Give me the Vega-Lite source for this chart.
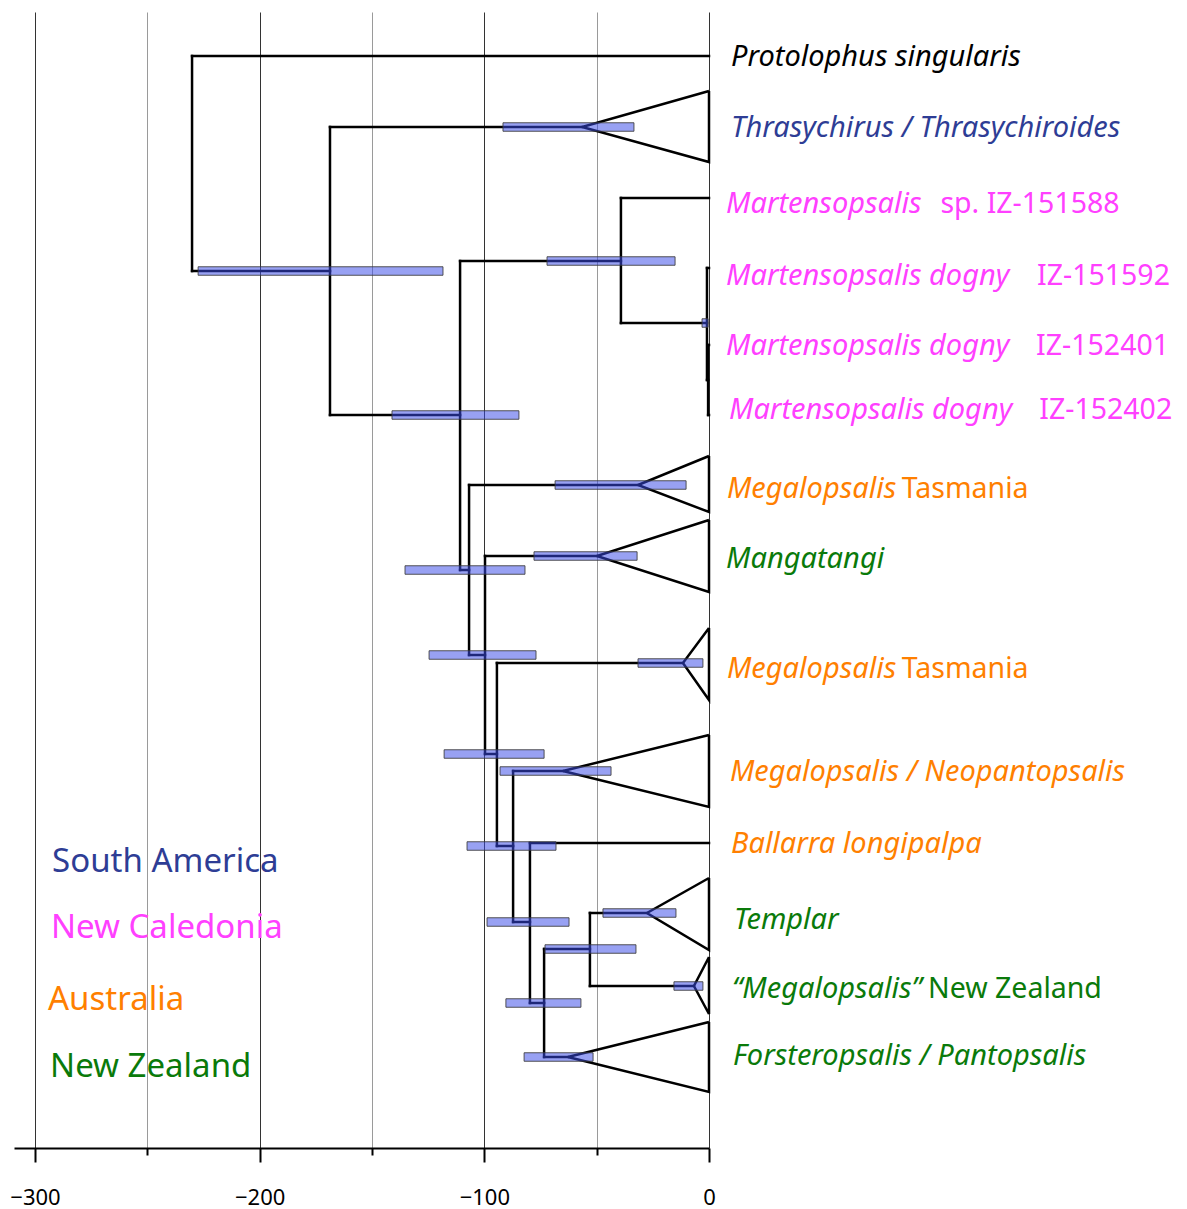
{
  "$schema": "https://vega.github.io/schema/vega-lite/v6.json",
  "width": 695,
  "height": 1136,
  "autosize": "none",
  "padding": {"left": 14, "top": 12, "right": 478, "bottom": 61},
  "background": "white",
  "config": {"view": {"stroke": null}},
  "datasets": {
    "edges": [
      {"x": -230.1, "x2": 0, "y": 56, "y2": 56},
      {"x": -230.1, "x2": -168.7, "y": 271, "y2": 271},
      {"x": -168.7, "x2": -56.5, "y": 127, "y2": 127},
      {"x": -168.7, "x2": -110.8, "y": 415, "y2": 415},
      {"x": -110.8, "x2": -39.2, "y": 261, "y2": 261},
      {"x": -39.2, "x2": 0, "y": 198, "y2": 198},
      {"x": -39.2, "x2": -0.9, "y": 323, "y2": 323},
      {"x": -0.9, "x2": 0, "y": 268, "y2": 268},
      {"x": -0.9, "x2": -0.4, "y": 380, "y2": 380},
      {"x": -0.4, "x2": 0, "y": 345, "y2": 345},
      {"x": -0.4, "x2": 0, "y": 415, "y2": 415},
      {"x": -110.8, "x2": -106.8, "y": 570, "y2": 570},
      {"x": -106.8, "x2": -31.6, "y": 485, "y2": 485},
      {"x": -106.8, "x2": -99.7, "y": 655, "y2": 655},
      {"x": -99.7, "x2": -49.9, "y": 556, "y2": 556},
      {"x": -99.7, "x2": -94.4, "y": 754, "y2": 754},
      {"x": -94.4, "x2": -11.6, "y": 663, "y2": 663},
      {"x": -94.4, "x2": -87.2, "y": 846, "y2": 846},
      {"x": -87.2, "x2": -65.0, "y": 771, "y2": 771},
      {"x": -87.2, "x2": -79.7, "y": 922, "y2": 922},
      {"x": -79.7, "x2": 0, "y": 843, "y2": 843},
      {"x": -79.7, "x2": -73.4, "y": 1003, "y2": 1003},
      {"x": -73.4, "x2": -53.0, "y": 949, "y2": 949},
      {"x": -53.0, "x2": -27.6, "y": 913, "y2": 913},
      {"x": -53.0, "x2": -6.7, "y": 986, "y2": 986},
      {"x": -73.4, "x2": -62.8, "y": 1057, "y2": 1057},
      {"x": -230.1, "x2": -230.1, "y": 56, "y2": 271},
      {"x": -168.7, "x2": -168.7, "y": 127, "y2": 415},
      {"x": -110.8, "x2": -110.8, "y": 261, "y2": 570},
      {"x": -39.2, "x2": -39.2, "y": 198, "y2": 323},
      {"x": -0.9, "x2": -0.9, "y": 268, "y2": 380},
      {"x": -0.4, "x2": -0.4, "y": 345, "y2": 415},
      {"x": -106.8, "x2": -106.8, "y": 485, "y2": 655},
      {"x": -99.7, "x2": -99.7, "y": 556, "y2": 754},
      {"x": -94.4, "x2": -94.4, "y": 663, "y2": 846},
      {"x": -87.2, "x2": -87.2, "y": 771, "y2": 922},
      {"x": -79.7, "x2": -79.7, "y": 843, "y2": 1003},
      {"x": -73.4, "x2": -73.4, "y": 949, "y2": 1057},
      {"x": -53.0, "x2": -53.0, "y": 913, "y2": 986}
    ],
    "triangles": [
      {"clade": "Thrasychirus", "ord": 1, "x": 0, "y": 91},
      {"clade": "Thrasychirus", "ord": 2, "x": -56.5, "y": 127},
      {"clade": "Thrasychirus", "ord": 3, "x": 0, "y": 162},
      {"clade": "Thrasychirus", "ord": 4, "x": 0, "y": 91},
      {"clade": "Tasmania1", "ord": 1, "x": 0, "y": 456},
      {"clade": "Tasmania1", "ord": 2, "x": -31.6, "y": 485},
      {"clade": "Tasmania1", "ord": 3, "x": 0, "y": 512},
      {"clade": "Tasmania1", "ord": 4, "x": 0, "y": 456},
      {"clade": "Mangatangi", "ord": 1, "x": 0, "y": 520},
      {"clade": "Mangatangi", "ord": 2, "x": -49.9, "y": 556},
      {"clade": "Mangatangi", "ord": 3, "x": 0, "y": 592},
      {"clade": "Mangatangi", "ord": 4, "x": 0, "y": 520},
      {"clade": "Tasmania2", "ord": 1, "x": 0, "y": 628},
      {"clade": "Tasmania2", "ord": 2, "x": -11.6, "y": 663},
      {"clade": "Tasmania2", "ord": 3, "x": 0, "y": 700},
      {"clade": "Tasmania2", "ord": 4, "x": 0, "y": 628},
      {"clade": "MegNeo", "ord": 1, "x": 0, "y": 735},
      {"clade": "MegNeo", "ord": 2, "x": -65.0, "y": 771},
      {"clade": "MegNeo", "ord": 3, "x": 0, "y": 807},
      {"clade": "MegNeo", "ord": 4, "x": 0, "y": 735},
      {"clade": "Templar", "ord": 1, "x": 0, "y": 878},
      {"clade": "Templar", "ord": 2, "x": -27.6, "y": 913},
      {"clade": "Templar", "ord": 3, "x": 0, "y": 950},
      {"clade": "Templar", "ord": 4, "x": 0, "y": 878},
      {"clade": "MegNZ", "ord": 1, "x": 0, "y": 957},
      {"clade": "MegNZ", "ord": 2, "x": -6.7, "y": 986},
      {"clade": "MegNZ", "ord": 3, "x": 0, "y": 1014},
      {"clade": "MegNZ", "ord": 4, "x": 0, "y": 957},
      {"clade": "Forsteropsalis", "ord": 1, "x": 0, "y": 1022},
      {"clade": "Forsteropsalis", "ord": 2, "x": -62.8, "y": 1057},
      {"clade": "Forsteropsalis", "ord": 3, "x": 0, "y": 1092},
      {"clade": "Forsteropsalis", "ord": 4, "x": 0, "y": 1022}
    ],
    "hpd": [
      {"node": "Thrasychirus", "lo": -91.7, "hi": -33.4, "y": 127},
      {"node": "A", "lo": -227.4, "hi": -118.4, "y": 271},
      {"node": "B", "lo": -141.1, "hi": -84.6, "y": 415},
      {"node": "C", "lo": -72.1, "hi": -15.1, "y": 261},
      {"node": "E", "lo": -3.1, "hi": -0.4, "y": 323},
      {"node": "Tasmania1", "lo": -68.5, "hi": -10.2, "y": 485},
      {"node": "D", "lo": -135.3, "hi": -81.9, "y": 570},
      {"node": "H", "lo": -124.6, "hi": -77.0, "y": 655},
      {"node": "Mangatangi", "lo": -77.9, "hi": -32.0, "y": 556},
      {"node": "Tasmania2", "lo": -31.6, "hi": -2.7, "y": 663},
      {"node": "I", "lo": -117.9, "hi": -73.4, "y": 754},
      {"node": "MegNeo", "lo": -93.0, "hi": -43.6, "y": 771},
      {"node": "J", "lo": -107.7, "hi": -68.1, "y": 846},
      {"node": "K", "lo": -98.8, "hi": -62.3, "y": 922},
      {"node": "L", "lo": -90.4, "hi": -57.0, "y": 1003},
      {"node": "M", "lo": -73.0, "hi": -32.5, "y": 949},
      {"node": "Templar", "lo": -47.2, "hi": -14.7, "y": 913},
      {"node": "MegNZ", "lo": -15.6, "hi": -2.7, "y": 986},
      {"node": "Forsteropsalis", "lo": -82.3, "hi": -51.6, "y": 1057}
    ],
    "labels": [
      {"text": "Protolophus singularis", "x": 9.8, "y": 66, "region": "Outgroup", "style": "italic"},
      {"text": "Thrasychirus / Thrasychiroides", "x": 9.8, "y": 137, "region": "South America", "style": "italic"},
      {"text": "Martensopsalis", "x": 7.6, "y": 213, "region": "New Caledonia", "style": "italic"},
      {"text": "sp. IZ-151588", "x": 103.0, "y": 213, "region": "New Caledonia", "style": "normal"},
      {"text": "Martensopsalis dogny", "x": 7.6, "y": 285, "region": "New Caledonia", "style": "italic"},
      {"text": "IZ-151592", "x": 146.0, "y": 285, "region": "New Caledonia", "style": "normal"},
      {"text": "Martensopsalis dogny", "x": 7.6, "y": 355, "region": "New Caledonia", "style": "italic"},
      {"text": "IZ-152401", "x": 145.6, "y": 355, "region": "New Caledonia", "style": "normal"},
      {"text": "Martensopsalis dogny", "x": 8.9, "y": 419, "region": "New Caledonia", "style": "italic"},
      {"text": "IZ-152402", "x": 147.0, "y": 419, "region": "New Caledonia", "style": "normal"},
      {"text": "Megalopsalis", "x": 8.0, "y": 498, "region": "Australia", "style": "italic"},
      {"text": "Tasmania", "x": 85.8, "y": 498, "region": "Australia", "style": "normal"},
      {"text": "Mangatangi", "x": 7.6, "y": 568, "region": "New Zealand", "style": "italic"},
      {"text": "Megalopsalis", "x": 8.0, "y": 678, "region": "Australia", "style": "italic"},
      {"text": "Tasmania", "x": 85.8, "y": 678, "region": "Australia", "style": "normal"},
      {"text": "Megalopsalis / Neopantopsalis", "x": 9.3, "y": 781, "region": "Australia", "style": "italic"},
      {"text": "Ballarra longipalpa", "x": 9.8, "y": 853, "region": "Australia", "style": "italic"},
      {"text": "Templar", "x": 11.1, "y": 929, "region": "New Zealand", "style": "italic"},
      {"text": "“Megalopsalis”", "x": 10.2, "y": 998, "region": "New Zealand", "style": "italic"},
      {"text": "New Zealand", "x": 97.5, "y": 998, "region": "New Zealand", "style": "normal"},
      {"text": "Forsteropsalis / Pantopsalis", "x": 10.7, "y": 1065, "region": "New Zealand", "style": "italic"}
    ],
    "legend": [
      {"text": "South America", "x": -292.4, "y": 872, "region": "South America"},
      {"text": "New Caledonia", "x": -292.9, "y": 938, "region": "New Caledonia"},
      {"text": "Australia", "x": -294.2, "y": 1010, "region": "Australia"},
      {"text": "New Zealand", "x": -293.3, "y": 1077, "region": "New Zealand"}
    ]
  },
  "encoding": {
    "x": {
      "field": "x", "type": "quantitative",
      "scale": {"domain": [-309.35, 0], "nice": false, "zero": false, "padding": 0},
      "axis": {
        "values": [-300, -250, -200, -150, -100, -50, 0],
        "title": null,
        "grid": true,
        "gridColor": {"condition": {"test": "datum.value % 100 === 0", "value": "#333333"}, "value": "#9a9a9a"},
        "gridWidth": 1,
        "domainColor": "#000000",
        "domainWidth": 2,
        "tickColor": "#000000",
        "tickWidth": 2,
        "tickSize": {"condition": {"test": "datum.value % 100 === 0", "value": 14}, "value": 7},
        "labelExpr": "datum.value % 100 === 0 ? datum.label : ''",
        "labelFont": "Noto Sans",
        "labelFontSize": 22,
        "labelColor": "#000000",
        "labelPadding": 25,
        "labelFlush": false,
        "labelOverlap": false
      }
    },
    "y": {
      "field": "y", "type": "quantitative",
      "scale": {"domain": [12, 1148], "reverse": true, "nice": false, "zero": false, "padding": 0},
      "axis": null
    }
  },
  "layer": [
    {
      "data": {"name": "edges"},
      "mark": {"type": "rule", "color": "#000000", "strokeWidth": 2.5, "strokeCap": "square"},
      "encoding": {"x2": {"field": "x2"}, "y2": {"field": "y2"}}
    },
    {
      "data": {"name": "triangles"},
      "mark": {"type": "line", "color": "#000000", "strokeWidth": 2.5, "strokeJoin": "miter"},
      "encoding": {"detail": {"field": "clade"}, "order": {"field": "ord", "type": "quantitative"}}
    },
    {
      "data": {"name": "hpd"},
      "mark": {"type": "bar", "orient": "horizontal", "height": 8.5, "fill": "#3a4ae8", "fillOpacity": 0.52, "stroke": "#3a3a3a", "strokeWidth": 1, "strokeOpacity": 0.85},
      "encoding": {"x": {"field": "lo", "type": "quantitative"}, "x2": {"field": "hi"}}
    },
    {
      "data": {"name": "labels"},
      "transform": [{"filter": "datum.style === 'italic'"}],
      "mark": {"type": "text", "align": "left", "baseline": "alphabetic", "font": "Noto Sans", "fontStyle": "italic", "fontSize": 29},
      "encoding": {
        "text": {"field": "text"},
        "color": {"field": "region", "type": "nominal", "legend": null,
          "scale": {"domain": ["Outgroup", "South America", "New Caledonia", "Australia", "New Zealand"], "range": ["#000000", "#2e3d95", "#ff40ff", "#ff7f00", "#0a7a0a"]}}
      }
    },
    {
      "data": {"name": "labels"},
      "transform": [{"filter": "datum.style === 'normal'"}],
      "mark": {"type": "text", "align": "left", "baseline": "alphabetic", "font": "Noto Sans", "fontSize": 28.5},
      "encoding": {
        "text": {"field": "text"},
        "color": {"field": "region", "type": "nominal", "legend": null}
      }
    },
    {
      "data": {"name": "legend"},
      "mark": {"type": "text", "align": "left", "baseline": "alphabetic", "font": "Noto Sans", "fontSize": 33},
      "encoding": {
        "text": {"field": "text"},
        "color": {"field": "region", "type": "nominal", "legend": null}
      }
    }
  ]
}
